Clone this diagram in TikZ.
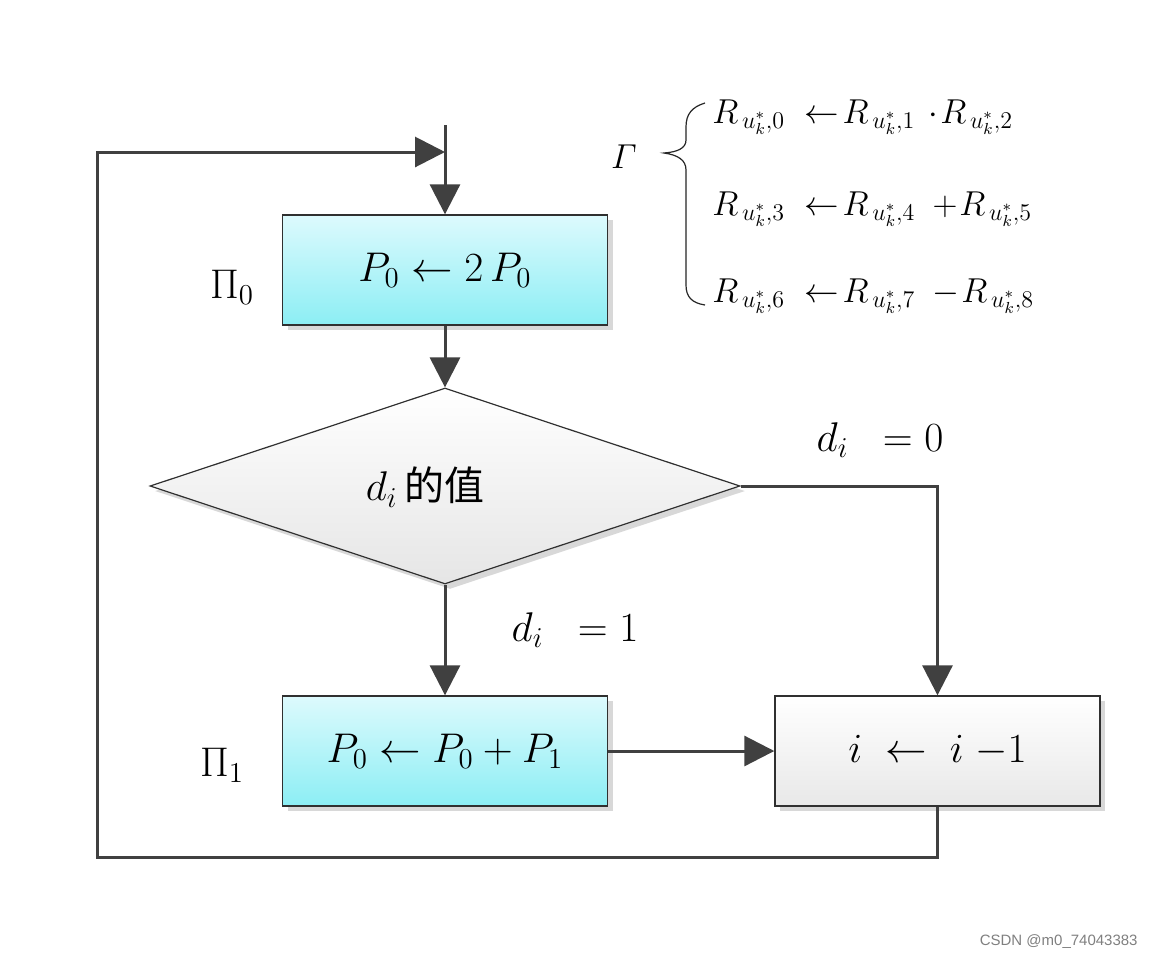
\documentclass[tikz,border=0pt]{standalone}
\usepackage{fontspec}
\usepackage{amsmath}
\newfontfamily\cjk{Noto Sans CJK SC}
\newfontfamily\wmfont{Liberation Sans}
\usetikzlibrary{shapes.geometric,arrows.meta,shadows}
\definecolor{cyantop}{HTML}{DDFAFD}
\definecolor{cyanbot}{HTML}{8CEEF4}
\definecolor{linegray}{HTML}{404040}
\definecolor{bordergray}{HTML}{303030}
\begin{document}
\begin{tikzpicture}[x=0.5pt,y=-0.5pt,
  shad/.style={drop shadow={shadow xshift=2.5pt,shadow yshift=-2.5pt,fill=black!30,opacity=0.5}},
  box/.style={shad,draw=bordergray,line width=0.7pt,minimum width=162.5pt,minimum height=55pt,inner sep=0pt,font=\fontsize{22}{26}\selectfont},
  cyanbox/.style={box,top color=cyantop,bottom color=cyanbot},
  graybox/.style={box,top color=white,bottom color=black!9},
  decision/.style={shad,diamond,aspect=3,draw=bordergray,line width=0.6pt,minimum width=295pt,minimum height=98pt,inner sep=0pt,top color=white,bottom color=black!10},
  conn/.style={draw=linegray,line width=1.5pt},
  arr/.style={conn,-{Triangle[length=15pt,width=15pt]}},
  lbl/.style={inner sep=0pt,font=\fontsize{20}{24}\selectfont},
  eq/.style={anchor=base west,inner sep=0pt,font=\fontsize{16.5}{20}\selectfont}
]
\fill[white] (0,0) rectangle (1152,960);
\useasboundingbox (0,0) rectangle (1152,960);

% boxes
\node[cyanbox] (p0) at (445,270) {$P_0\leftarrow 2\,P_0$};
\node[decision] (dia) at (445,486) {};
\node[cyanbox] (p1) at (445,751) {$P_0\leftarrow P_0+P_1$};
\node[graybox] (dec) at (937.5,751) {$i\;\leftarrow\;i\;{-}1$};

% texts
\node[lbl] (dtxt) at (425,487) {$d_i$\,{\cjk 的值}};
\node[lbl,font=\fontsize{22}{26}\selectfont] (pi0) at (232,287) {$\Pi_0$};
\node[lbl,font=\fontsize{22}{26}\selectfont] (pi1) at (222,765) {$\Pi_1$};
\node[lbl] (d0) at (880,440) {$d_i\;\;=0$};
\node[lbl] (d1) at (575,630) {$d_i\;\;=1$};

% coordinates of the loop
\coordinate (top) at (445,125);
\coordinate (join) at (445,152);
\coordinate (bl) at (97,857);

% connectors
\draw[arr] (top) -- (p0.north);
\draw[arr] (p0.south) -- (dia.north);
\draw[arr] (dia.south) -- (p1.north);
\draw[arr] (dia.east) -| (dec.north);
\draw[arr] (p1.east) -- (dec.west);
\draw[arr] (dec.south) |- (bl) |- (join);

% Gamma with brace and equations
\node[inner sep=0pt,font=\fontsize{17}{20}\selectfont] (gam) at (624,157) {$\varGamma$};
\draw[black!85,line width=0.6pt] (705,103) .. controls (692,107) and (686,114) .. (686,127) -- (686,140) .. controls (686,148) and (678,152) .. (664,153) .. controls (678,155) and (686,160) .. (686,170) -- (686,285) .. controls (686,297) and (692,303) .. (705,305);
\node[eq] (e1) at (712,123) {$R_{\,u^*_k,0}\;\leftarrow\! R_{\,u^*_k,1}\,\cdot\! R_{\,u^*_k,2}$};
\node[eq] (e2) at (712,215) {$R_{\,u^*_k,3}\;\leftarrow\! R_{\,u^*_k,4}\;+\!R_{\,u^*_k,5}$};
\node[eq] (e3) at (712,302) {$R_{\,u^*_k,6}\;\leftarrow\! R_{\,u^*_k,7}\;-\!R_{\,u^*_k,8}$};

% watermark
\node[anchor=east,inner sep=0pt,text=black!50,font=\wmfont\fontsize{7.5}{9}\selectfont] (wm) at (1138,942) {CSDN @m0\_74043383};
\end{tikzpicture}
\end{document}
